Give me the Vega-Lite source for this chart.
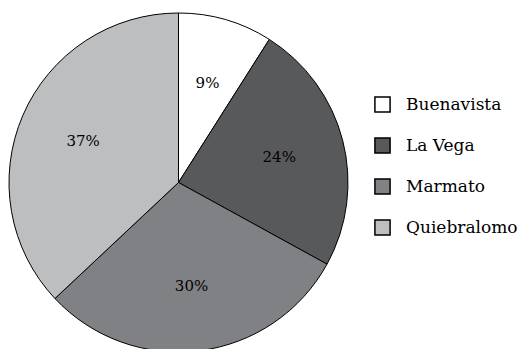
{
  "$schema": "https://vega.github.io/schema/vega-lite/v6.json",
  "width": 357,
  "height": 365,
  "padding": 0,
  "background": "white",
  "config": {"view": {"stroke": null}, "font": "DejaVu Serif"},
  "data": {"values": [
    {"site": "Buenavista", "pct": 9},
    {"site": "La Vega", "pct": 24},
    {"site": "Marmato", "pct": 30},
    {"site": "Quiebralomo", "pct": 37}
  ]},
  "encoding": {
    "theta": {"field": "pct", "type": "quantitative", "stack": true},
    "order": {"field": "site"}
  },
  "layer": [
    {
      "mark": {"type": "arc", "outerRadius": 169.5, "stroke": "black", "strokeWidth": 1},
      "encoding": {
        "color": {
          "field": "site", "type": "nominal",
          "scale": {"domain": ["Buenavista", "La Vega", "Marmato", "Quiebralomo"], "range": ["#ffffff", "#58595b", "#808184", "#bcbec0"]},
          "legend": {
            "title": null, "orient": "none", "legendX": 374, "legendY": 96,
            "symbolType": "square", "symbolSize": 230, "symbolStrokeColor": "black", "symbolStrokeWidth": 1.5,
            "labelFont": "DejaVu Serif", "labelFontSize": 17, "labelColor": "black",
            "rowPadding": 18, "labelOffset": 15, "symbolOpacity": 1
          }
        }
      }
    },
    {
      "mark": {"type": "text", "radius": 104, "fontSize": 15, "font": "DejaVu Serif", "color": "black"},
      "encoding": {
        "text": {"field": "label", "type": "nominal"}
      },
      "transform": [{"calculate": "datum.pct + '%'", "as": "label"}]
    }
  ]
}
